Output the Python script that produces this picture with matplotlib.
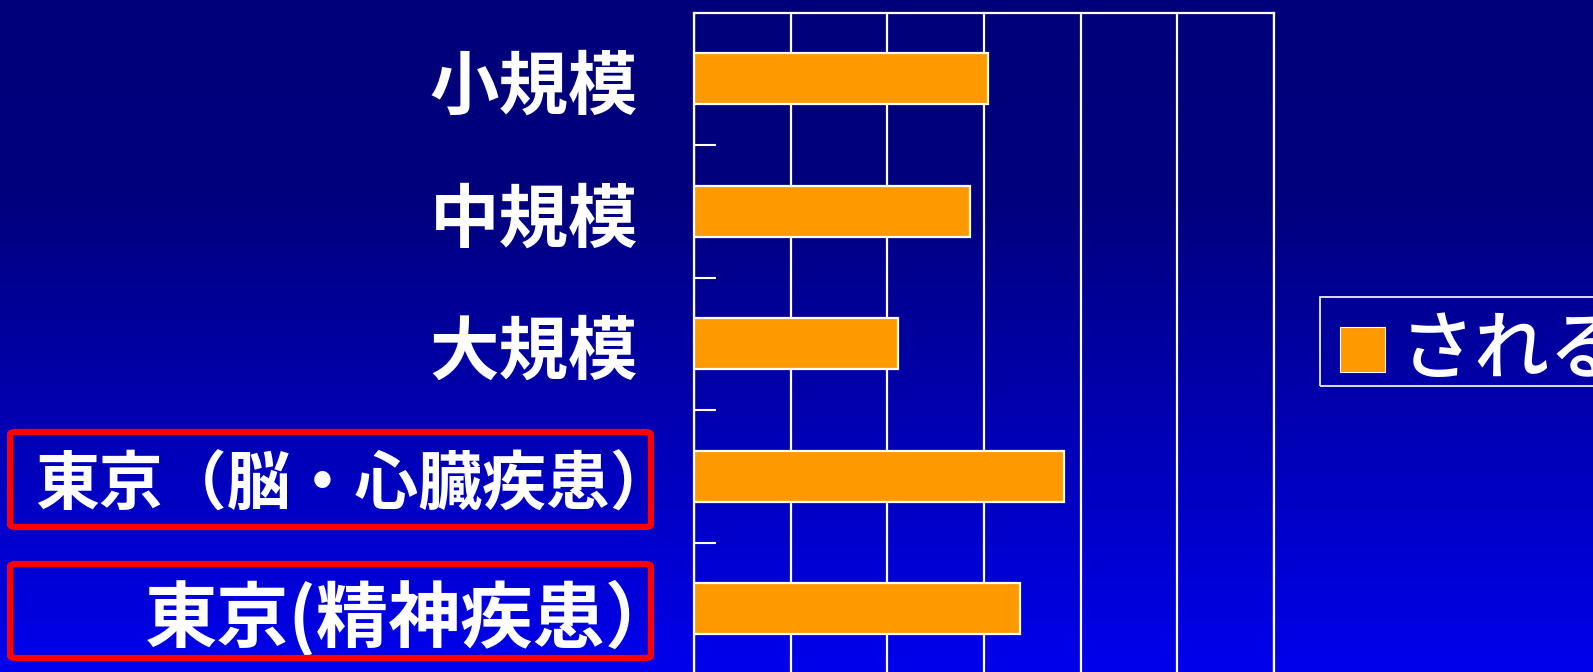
import numpy as np
import matplotlib.pyplot as plt
import matplotlib.transforms as mtransforms
from matplotlib.patches import Rectangle, FancyBboxPatch
from matplotlib.colors import LinearSegmentedColormap

plt.rcParams['font.family'] = ['Noto Sans CJK JP', 'DejaVu Sans']

# data
categories = ['小規模', '中規模', '大規模', '東京（脳・心臓疾患）', '東京(精神疾患）']
values = [30.4, 28.6, 21.1, 38.3, 33.7]
series_name = 'される'
label_sizes = [50, 50, 50, 46, 52]
label_shift = [0, 0, 0, 36, 40]   # px, the full-width closing paren leaves blank space
boxed = [3, 4]

W, H = 1593, 672
fig = plt.figure(figsize=(W / 100, H / 100), dpi=100)

# background gradient, dark navy on top to bright blue at the bottom
bg = fig.add_axes([0, 0, 1, 1], zorder=-10)
bg.axis('off')
cmap = LinearSegmentedColormap.from_list(
    'bg', [(0.0, '#00007a'), (0.3, '#00007e'), (1.0, '#0000ec')])
grad = np.linspace(0, 1, 256).reshape(-1, 1)
bg.imshow(grad, aspect='auto', cmap=cmap, extent=[0, 1, 1, 0])
bg.set_xlim(0, 1)
bg.set_ylim(1, 0)

# plot area in pixels: x 694..1274, y 12.5..675 (bottom runs off the figure)
left, right, top, bottom = 694, 1274, 12.5, 675
ax = fig.add_axes([left / W, (H - bottom) / H, (right - left) / W, (bottom - top) / H])
ax.set_facecolor('none')

y = np.arange(len(categories))
ax.barh(y, values, height=0.385, color='#ff9900', edgecolor='white', linewidth=1.6, zorder=3)

ax.set_xlim(0, 60)
ax.set_ylim(len(categories) - 0.5, -0.5)
ax.set_xticks(np.arange(0, 61, 10))
ax.grid(axis='x', color='white', linewidth=1.6)
ax.set_axisbelow(True)
ax.tick_params(axis='x', length=0, labelbottom=False)

# category boundaries get the tick marks
ax.set_yticks(np.arange(0.5, len(categories) - 1, 1.0))
ax.set_yticklabels([])
ax.tick_params(axis='y', which='major', direction='in', length=16, width=1.5, color='white')

# category names, right-aligned left of the axis
for yi, name, fs, dx in zip(y, categories, label_sizes, label_shift):
    tr = mtransforms.offset_copy(ax.get_yaxis_transform(), fig=fig,
                                 x=-56 + dx, y=-10, units='dots')
    ax.text(0, yi, name, transform=tr, ha='right', va='center', color='white',
            fontsize=fs, fontweight='bold')

for side in ['top', 'left', 'right']:
    ax.spines[side].set_color('white')
    ax.spines[side].set_linewidth(1.6)
ax.spines['bottom'].set_visible(False)

# red frames around the Tokyo rows
frames = {3: (10, 432, 651, 527), 4: (10, 564, 651, 658)}
for i in boxed:
    x0, y0, x1, y1 = frames[i]
    fig.patches.append(FancyBboxPatch(
        (x0 / W, (H - y1) / H), (x1 - x0) / W, (y1 - y0) / H,
        boxstyle='round,pad=0,rounding_size=0.004', transform=fig.transFigure,
        facecolor='none', edgecolor='#ff0000', linewidth=4.5, zorder=5))

# legend box, runs past the right edge
fig.patches.append(Rectangle((1320 / W, (H - 386) / H), 300 / W, 89 / H,
                             transform=fig.transFigure, facecolor='none',
                             edgecolor='white', linewidth=1.2))
fig.patches.append(Rectangle((1340 / W, (H - 372) / H), 45 / W, 45 / H,
                             transform=fig.transFigure, facecolor='#ff9900',
                             edgecolor='white', linewidth=0.8))
fig.text(1400 / W, (H - 352) / H, series_name, color='white', fontsize=54,
         fontweight='medium', va='center', ha='left')

fig.savefig('out.png', dpi=100)
